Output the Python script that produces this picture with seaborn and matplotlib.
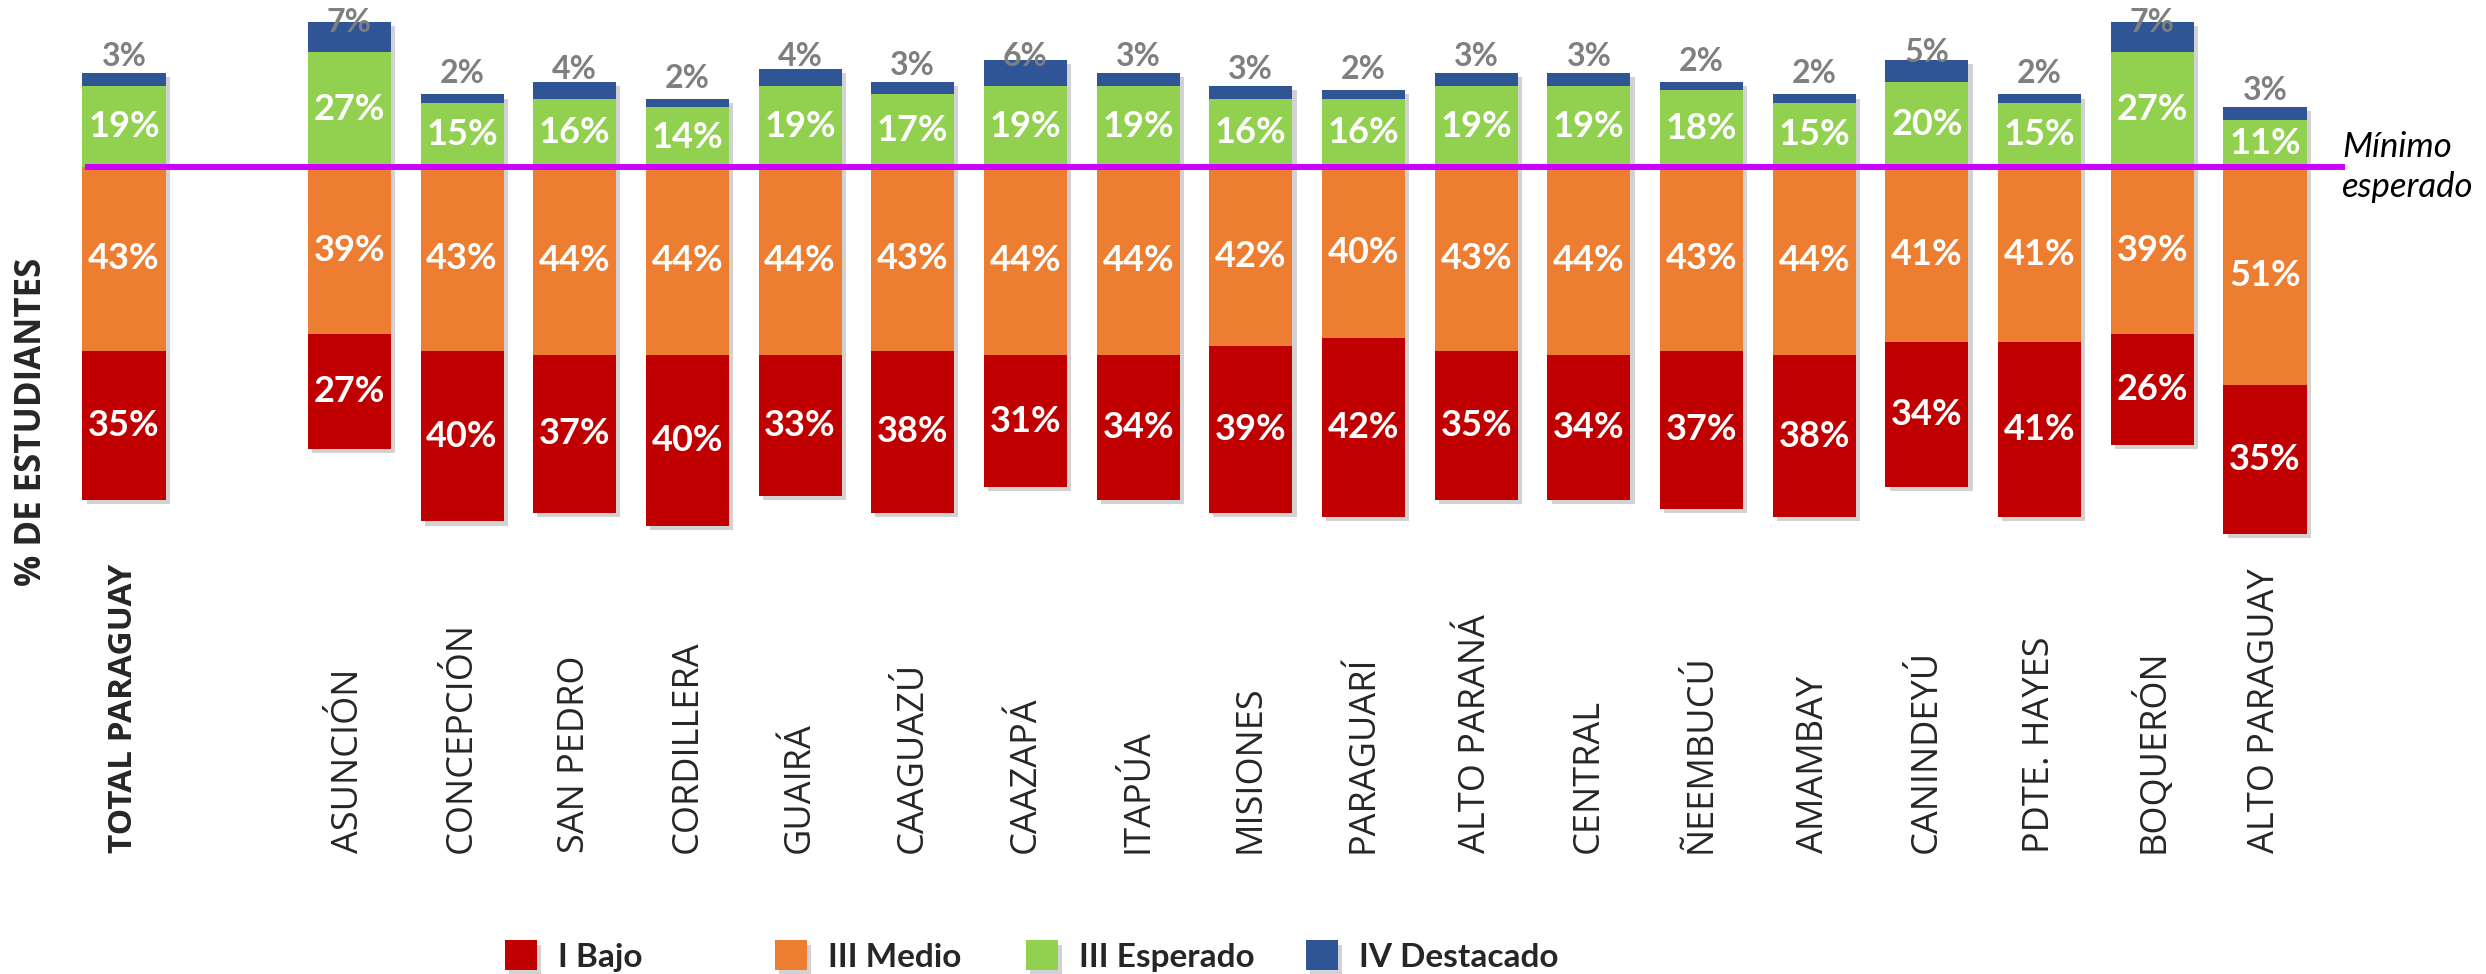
import numpy as np
import pandas as pd
import matplotlib
matplotlib.use("Agg")
import matplotlib.pyplot as plt
import matplotlib.patheffects as pe
import seaborn as sns

# ---------------- data ----------------
categorias = ["TOTAL PARAGUAY", "ASUNCIÓN", "CONCEPCIÓN", "SAN PEDRO", "CORDILLERA",
              "GUAIRÁ", "CAAGUAZÚ", "CAAZAPÁ", "ITAPÚA", "MISIONES", "PARAGUARÍ",
              "ALTO PARANÁ", "CENTRAL", "ÑEEMBUCÚ", "AMAMBAY", "CANINDEYÚ",
              "PDTE. HAYES", "BOQUERÓN", "ALTO PARAGUAY"]
bajo      = [35, 27, 40, 37, 40, 33, 38, 31, 34, 39, 42, 35, 34, 37, 38, 34, 41, 26, 35]
medio     = [43, 39, 43, 44, 44, 44, 43, 44, 44, 42, 40, 43, 44, 43, 44, 41, 41, 39, 51]
esperado  = [19, 27, 15, 16, 14, 19, 17, 19, 19, 16, 16, 19, 19, 18, 15, 20, 15, 27, 11]
destacado = [3, 7, 2, 4, 2, 4, 3, 6, 3, 3, 2, 3, 3, 2, 2, 5, 2, 7, 3]
niveles = ["I Bajo", "III Medio", "III Esperado", "IV Destacado"]
colores = ["#C00000", "#ED7D31", "#92D050", "#2F5597"]

# ---------------- layout ----------------
W, H = 2486, 974
DPI = 100
sns.set_theme(style="white")
plt.rcParams["font.family"] = ["Lato", "DejaVu Sans"]

fig = plt.figure(figsize=(W / DPI, H / DPI), dpi=DPI)
ax_bottom_px = 853           # bottom of axes (category labels start here)
ax = fig.add_axes([0, (H - ax_bottom_px) / H, 1, ax_bottom_px / H])

# slot positions: TOTAL, empty slot, then departments
pos = np.array([0] + list(range(2, 2 + len(categorias) - 1)), dtype=float)

B = np.array(bajo, float)
M = np.array(medio, float)
E = np.array(esperado, float)
D = np.array(destacado, float)

layers = {
    "IV Destacado": (D, E),
    "III Esperado": (E, np.zeros_like(E)),
    "III Medio": (-M, np.zeros_like(M)),
    "I Bajo": (-B, -M),
}
col_map = dict(zip(niveles, colores))
containers = {}
for name in ["IV Destacado", "III Esperado", "III Medio", "I Bajo"]:
    h, b = layers[name]
    df = pd.DataFrame({"pos": pos, "valor": h})
    sns.barplot(data=df, x="pos", y="valor", native_scale=True, width=0.737,
                color=col_map[name], saturation=1, errorbar=None, bottom=b,
                linewidth=0, ax=ax)
    containers[name] = ax.containers[-1]
if ax.get_legend() is not None:
    ax.get_legend().remove()

shadow = [pe.SimplePatchShadow(offset=(3, -3), shadow_rgbFace="#7f7f7f", alpha=0.35), pe.Normal()]
for p in ax.patches:
    p.set_path_effects(shadow)

# geometry: map data to reference pixels
unit = (2265 - 124) / 19.0
ax.set_xlim(-124 / unit, 19 + (W - 2265) / unit)
ppp = 4.27
base_px = 167
ax.set_ylim(-(ax_bottom_px - base_px) / ppp, base_px / ppp)

# minimum expected line
ax.hlines(0, (85 - 124) / unit, (2345 - 124) / unit, color="#CC00FF", lw=4.3, zorder=6)
ax.text((2342 - 124) / unit, 0.0, "Mínimo\nesperado", ha="left", va="center",
        fontsize=25, style="italic", color="black", linespacing=1.3)

# value labels
lab_kw = dict(ha="center", va="center", color="white", fontsize=26, fontweight="bold", zorder=7)
for i, x in enumerate(pos):
    ax.text(x, -B[i] / 2 - M[i], f"{bajo[i]}%", **lab_kw)
    ax.text(x, -M[i] / 2, f"{medio[i]}%", **lab_kw)
    ax.text(x, E[i] / 2, f"{esperado[i]}%", **lab_kw)
    ax.text(x, E[i] + 6.8, f"{destacado[i]}%", ha="center", va="center",
            color="#7F7F7F", fontsize=23, fontweight="bold", zorder=7)

# category labels
ax.set_xlabel("")
ax.set_xticks(pos)
ax.set_xticklabels(categorias, rotation=90, va="bottom", ha="center",
                   fontsize=26, family="Open Sans")
ax.tick_params(axis="x", length=0, pad=0)
tl0 = ax.get_xticklabels()[0]
tl0.set_fontweight("bold")
tl0.set_fontsize(24)
ax.set_yticks([])
for s in ax.spines.values():
    s.set_visible(False)

ax.set_ylabel("% DE ESTUDIANTES", fontsize=25, fontweight="bold", family="Open Sans")
ax.yaxis.set_label_coords(32 / W, (ax_bottom_px - 422) / ax_bottom_px)
ax.yaxis.label.set_verticalalignment("center")

# legend (four entries at their own positions)
leg_x = {"I Bajo": 505, "III Medio": 775, "III Esperado": 1026, "IV Destacado": 1306}
for name in niveles:
    fig.legend(handles=[containers[name]], labels=[name], loc="center left",
               bbox_to_anchor=(leg_x[name] / W, 1 - 956 / H), frameon=False,
               borderpad=0, borderaxespad=0, handlelength=0.96, handleheight=1.0,
               handletextpad=0.63, prop=dict(family="Lato", weight="bold", size=24))

fig.savefig("out.png", dpi=DPI)
